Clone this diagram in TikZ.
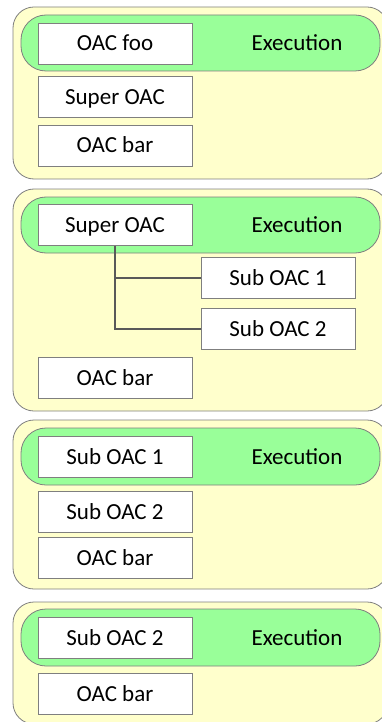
\documentclass[tikz,border=0pt]{standalone}
\usepackage{fontspec}
\setmainfont{Carlito}
\usepackage{tikz}

\definecolor{panelfill}{HTML}{FFFFCC}
\definecolor{execfill}{HTML}{99FF99}
\definecolor{edgegray}{HTML}{7F7F7F}
\definecolor{linkgray}{HTML}{595959}

\begin{document}
\begin{tikzpicture}[x=1pt, y=-1pt,
    panel/.style={draw=edgegray, fill=panelfill, line width=0.8pt, rounded corners=21pt},
    execbar/.style={draw=edgegray, fill=execfill, line width=0.8pt, rounded corners=25pt},
    oacbox/.style={draw=edgegray, fill=white, line width=0.8pt, minimum width=154pt, minimum height=41pt,
        inner sep=0pt, text height=15pt, text depth=0pt},
    execlabel/.style={inner sep=0pt, text height=15pt, text depth=0pt},
    link/.style={draw=linkgray, line width=2pt}]

    \useasboundingbox (0,0) rectangle (382,722);
    \fontsize{23}{27}\selectfont

    % panel 1
    \draw[panel] (13,7) rectangle (388,179);
    \draw[execbar] (21,15) rectangle (380,71);
    \node[oacbox] (foo1) at (115,43.5) {OAC foo};
    \node[execlabel] (exec1) at (297,43) {Execution};
    \node[oacbox] (super1) at (115,97) {Super OAC};
    \node[oacbox] (bar1) at (115,145.5) {OAC bar};

    % panel 2
    \draw[panel] (13,189) rectangle (388,411);
    \draw[execbar] (21,197) rectangle (380,253);
    \node[oacbox] (super2) at (115,225) {Super OAC};
    \node[execlabel] (exec2) at (297,225) {Execution};
    \node[oacbox] (sub12) at (278,278) {Sub OAC 1};
    \node[oacbox] (sub22) at (278,329) {Sub OAC 2};
    \node[oacbox] (bar2) at (115,377.5) {OAC bar};
    \draw[link] (super2.south) |- (sub12.west); % Super -> Sub 1
    \draw[link] (super2.south) |- (sub22.west); % Super -> Sub 2

    % panel 3
    \draw[panel] (13,420) rectangle (388,589);
    \draw[execbar] (21,428) rectangle (380,485);
    \node[oacbox] (sub13) at (115,457) {Sub OAC 1};
    \node[execlabel] (exec3) at (297,456.5) {Execution};
    \node[oacbox] (sub23) at (115,512) {Sub OAC 2};
    \node[oacbox] (bar3) at (115,558) {OAC bar};

    % panel 4
    \draw[panel] (13,602) rectangle (388,724);
    \draw[execbar] (21,609) rectangle (380,666);
    \node[oacbox] (sub24) at (115,638) {Sub OAC 2};
    \node[execlabel] (exec4) at (297,637.5) {Execution};
    \node[oacbox] (bar4) at (115,694) {OAC bar};

\end{tikzpicture}
\end{document}
